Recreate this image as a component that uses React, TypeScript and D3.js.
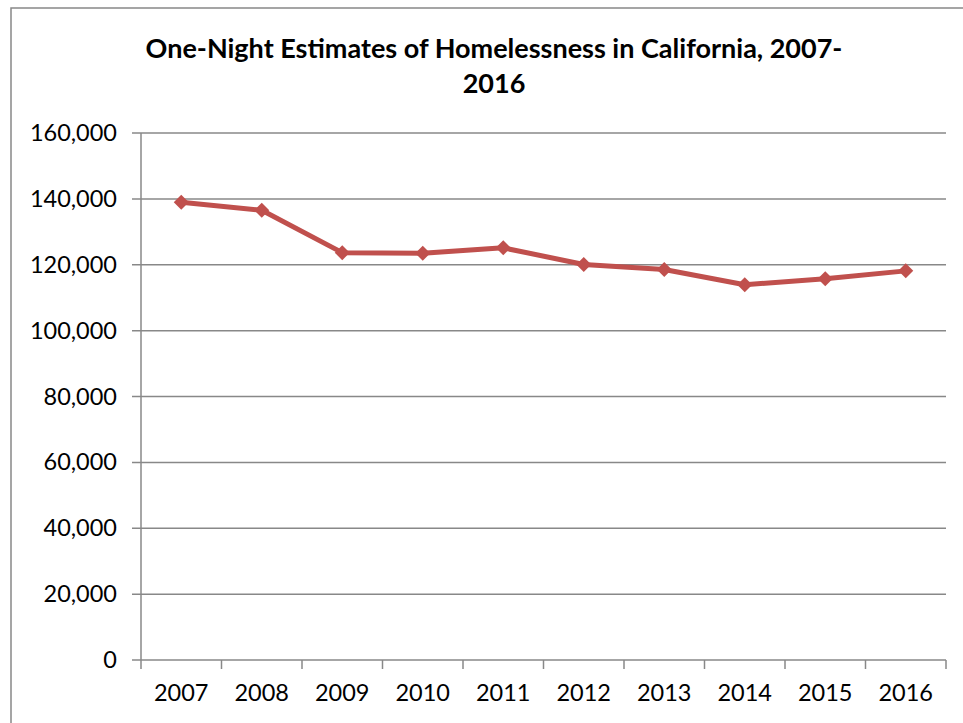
import React from "react";
import * as d3 from "d3";

const years: string[] = ["2007", "2008", "2009", "2010", "2011", "2012", "2013", "2014", "2015", "2016"];
const homeless: number[] = [138986, 136531, 123678, 123480, 125128, 120098, 118552, 113952, 115738, 118142];
const yTicks: number[] = [0, 20000, 40000, 60000, 80000, 100000, 120000, 140000, 160000];
const titleLines: string[] = ["One-Night Estimates of Homelessness in California, 2007-", "2016"];

const W = 963;
const H = 723;
const plot = { left: 141, right: 946, top: 133, bottom: 660 };
const FONT = "Lato, 'Open Sans', sans-serif";
const GRID = "#888888";
const RED = "#C0504D";

export default function App() {
  const x = d3.scaleBand<string>().domain(years).range([plot.left, plot.right]);
  const y = d3.scaleLinear().domain([0, 160000]).range([plot.bottom, plot.top]);
  const fmt = d3.format(",");
  const line = d3
    .line<number>()
    .x((_, i) => (x(years[i]) as number) + x.bandwidth() / 2)
    .y((d) => y(d));
  const edges = years.map((yr) => x(yr) as number).concat([plot.right]);
  const dsize = 7.5;

  return (
    <svg
      width={W}
      height={H}
      style={{ position: "absolute", left: 0, top: 0, background: "#fff" }}
      fontFamily={FONT}
    >
      <rect x={0} y={0} width={W} height={H} fill="#fff" />
      <rect x={11} y={8} width={W + 10} height={H + 10} fill="none" stroke="#888" strokeWidth={1.5} />
      <text textAnchor="middle" fontWeight="bold" fontSize={27} fill="#000">
        <tspan x={494} y={58}>{titleLines[0]}</tspan>
        <tspan x={494} y={93}>{titleLines[1]}</tspan>
      </text>
      {yTicks.map((t) => (
        <g key={t}>
          <line x1={plot.left - 9} x2={plot.right} y1={y(t)} y2={y(t)} stroke={GRID} strokeWidth={1.5} />
          <text x={117} y={y(t) + 8} textAnchor="end" fontSize={23.5} fill="#000">
            {fmt(t)}
          </text>
        </g>
      ))}
      <line x1={plot.left} x2={plot.left} y1={plot.top} y2={plot.bottom} stroke={GRID} strokeWidth={1.5} />
      {edges.map((e, i) => (
        <line key={i} x1={e} x2={e} y1={plot.bottom} y2={plot.bottom + 9} stroke={GRID} strokeWidth={1.5} />
      ))}
      {years.map((yr) => (
        <text
          key={yr}
          x={(x(yr) as number) + x.bandwidth() / 2}
          y={701}
          textAnchor="middle"
          fontSize={23.5}
          fill="#000"
        >
          {yr}
        </text>
      ))}
      <path d={line(homeless) || ""} fill="none" stroke={RED} strokeWidth={5} strokeLinejoin="round" />
      {homeless.map((v, i) => {
        const cx = (x(years[i]) as number) + x.bandwidth() / 2;
        const cy = y(v);
        return (
          <path
            key={i}
            d={`M${cx},${cy - dsize}L${cx + dsize},${cy}L${cx},${cy + dsize}L${cx - dsize},${cy}Z`}
            fill={RED}
          />
        );
      })}
    </svg>
  );
}
